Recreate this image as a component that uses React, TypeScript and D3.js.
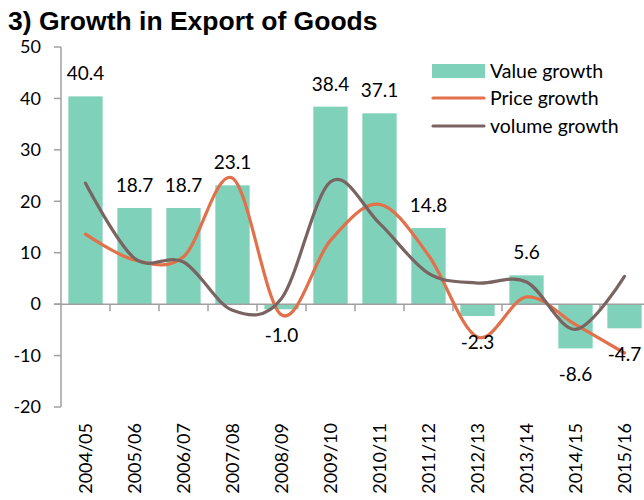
import * as d3 from "d3";

const W = 644;
const H = 500;
const M = { top: 47, left: 61, bandW: 49 };

const years = [
  "2004/05", "2005/06", "2006/07", "2007/08", "2008/09", "2009/10",
  "2010/11", "2011/12", "2012/13", "2013/14", "2014/15", "2015/16",
];
const valueGrowth = [40.4, 18.7, 18.7, 23.1, -1.0, 38.4, 37.1, 14.8, -2.3, 5.6, -8.6, -4.7];
const priceGrowth = [13.6, 8.6, 9.2, 24.5, -2.1, 12.4, 19.4, 9.5, -6.4, 1.4, -4.0, -9.5];
const volumeGrowth = [23.5, 8.9, 8.2, -1.2, 1.1, 23.8, 15.7, 6.0, 4.1, 4.3, -4.9, 5.4];
const yTicks = [50, 40, 30, 20, 10, 0, -10, -20];

const BAR = "#7fd1b9";
const PRICE = "#e2704a";
const VOLUME = "#7a6462";
const AXIS = "#a0a0a0";
const FONT = "Lato, 'Open Sans', sans-serif";

export default function App() {
  const x = d3
    .scaleBand()
    .domain(years)
    .range([M.left, M.left + M.bandW * years.length])
    .paddingInner(0.3)
    .paddingOuter(0.15);
  const y = d3.scaleLinear().domain([-20, 50]).range([407, M.top]);
  const cx = (i) => x(years[i]) + x.bandwidth() / 2;

  const line = d3
    .line()
    .x((d, i) => cx(i))
    .y((d) => y(d))
    .curve(d3.curveCardinal.tension(0));

  // category boundaries for the small ticks under the zero line
  const bounds = d3.range(1, years.length + 1).map((i) => M.left + i * M.bandW);

  return (
    <svg
      width={W}
      height={H}
      style={{ position: "absolute", left: 0, top: 0, background: "white" }}
    >
      <text x={8} y={30} fontFamily="'Liberation Sans', Arial, sans-serif" fontWeight="bold" fontSize={26.5} fill="#000">
        3) Growth in Export of Goods
      </text>

      {/* bars */}
      {valueGrowth.map((v, i) => (
        <rect
          key={years[i]}
          x={x(years[i])}
          y={Math.min(y(v), y(0))}
          width={x.bandwidth()}
          height={Math.abs(y(v) - y(0))}
          fill={BAR}
        />
      ))}

      {/* y axis */}
      <line x1={M.left} x2={M.left} y1={y(50)} y2={y(-20)} stroke={AXIS} strokeWidth={1.5} />
      {yTicks.map((t) => (
        <g key={t}>
          <line x1={M.left - 7} x2={M.left} y1={y(t)} y2={y(t)} stroke={AXIS} strokeWidth={1.5} />
          <text x={41} y={y(t)} dy="0.35em" textAnchor="end" fontFamily={FONT} fontSize={18} fill="#000">
            {t}
          </text>
        </g>
      ))}

      {/* zero line with category ticks */}
      <line x1={M.left - 7} x2={W} y1={y(0)} y2={y(0)} stroke={AXIS} strokeWidth={1.5} />
      {bounds.map((b) => (
        <line key={b} x1={b} x2={b} y1={y(0)} y2={y(0) + 7} stroke={AXIS} strokeWidth={1.5} />
      ))}

      {/* lines */}
      <path d={line(priceGrowth)} fill="none" stroke={PRICE} strokeWidth={3.2} strokeLinecap="round" />
      <path d={line(volumeGrowth)} fill="none" stroke={VOLUME} strokeWidth={3.2} strokeLinecap="round" />

      {/* bar labels */}
      {valueGrowth.map((v, i) => (
        <text
          key={"l" + i}
          x={cx(i)}
          y={v >= 0 ? y(v) - 16 : y(v) + 33}
          textAnchor="middle"
          fontFamily={FONT}
          fontSize={19}
          fill="#000"
        >
          {v.toFixed(1)}
        </text>
      ))}

      {/* x labels */}
      {years.map((c, i) => (
        <text
          key={"x" + c}
          transform={`translate(${cx(i)},423) rotate(-90)`}
          dy="0.35em"
          textAnchor="end"
          fontFamily={FONT}
          fontSize={18}
          fill="#000"
        >
          {c}
        </text>
      ))}

      {/* legend */}
      <g fontFamily={FONT} fontSize={19.5} fill="#000">
        <rect x={432} y={64} width={53} height={14} fill={BAR} />
        <text x={490} y={71} dy="0.35em">Value growth</text>
        <line x1={433} x2={484} y1={98} y2={98} stroke={PRICE} strokeWidth={3.2} strokeLinecap="round" />
        <text x={490} y={98} dy="0.35em">Price growth</text>
        <line x1={433} x2={484} y1={126} y2={126} stroke={VOLUME} strokeWidth={3.2} strokeLinecap="round" />
        <text x={490} y={126} dy="0.35em">volume growth</text>
      </g>
    </svg>
  );
}
